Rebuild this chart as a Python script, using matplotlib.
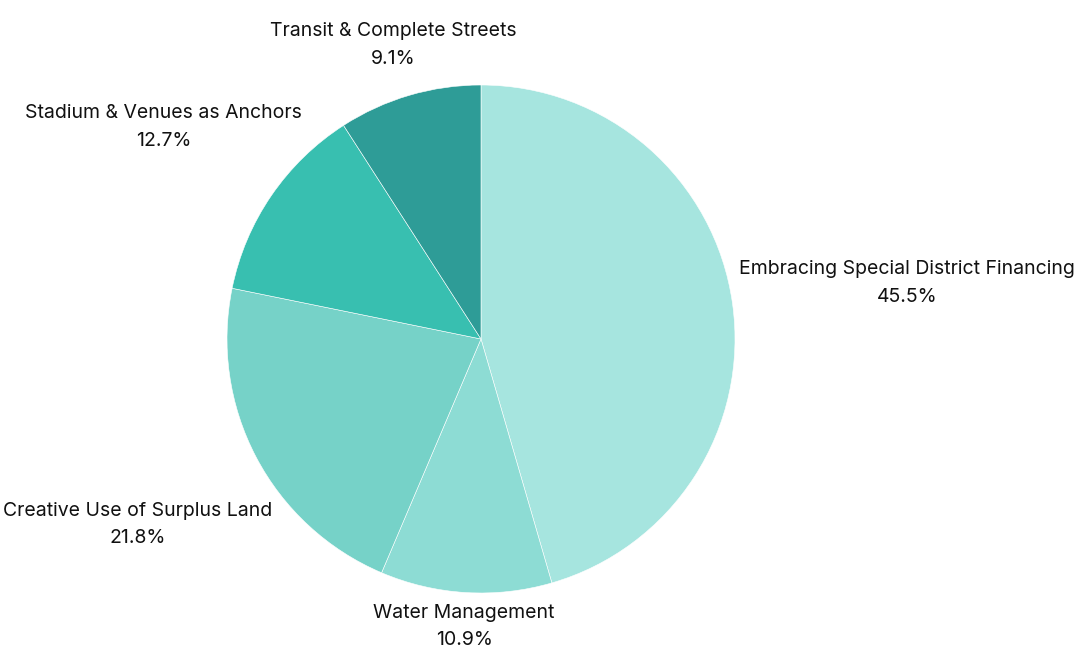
import numpy as np
import matplotlib
matplotlib.use("Agg")
import matplotlib.pyplot as plt

labels = ["Embracing Special District Financing", "Water Management",
          "Creative Use of Surplus Land", "Stadium & Venues as Anchors",
          "Transit & Complete Streets"]
shares = [45.5, 10.9, 21.8, 12.7, 9.1]
colors = ["#a6e5df", "#8ddcd4", "#76d2c8", "#38bfb0", "#2e9c97"]

plt.rcParams['font.family'] = ['Inter', 'DejaVu Sans']

fig = plt.figure(figsize=(10.8, 6.62), dpi=100)
ax = fig.add_axes([0, 0, 1, 1])
ax.axis("off")

cx, cy, r = 481, 323, 254
wedges, _ = ax.pie(shares, colors=colors, startangle=90, counterclock=False,
                   center=(cx, cy), radius=r,
                   wedgeprops=dict(edgecolor="white", linewidth=0.4))
ax.set_xlim(0, 1080)
ax.set_ylim(0, 662)
ax.set_aspect("auto")

texts = []
for w, lab, s in zip(wedges, labels, shares):
    t = ax.text(0, 0, f"{lab}\n{s:.1f}%", ha="center", va="center",
                fontsize=14, color="#111111", linespacing=1.7,
                multialignment="center")
    texts.append(t)

fig.canvas.draw()
renderer = fig.canvas.get_renderer()
R = r * 1.03
for w, t in zip(wedges, texts):
    ang = np.deg2rad((w.theta1 + w.theta2) / 2)
    bb = t.get_window_extent(renderer)
    hw, hh = bb.width / 2, bb.height / 2
    d = R + abs(hw * np.cos(ang)) + abs(hh * np.sin(ang)) * 0.7
    t.set_position((cx + d * np.cos(ang), cy + d * np.sin(ang) - 5))

fig.savefig("out.png", dpi=100)
